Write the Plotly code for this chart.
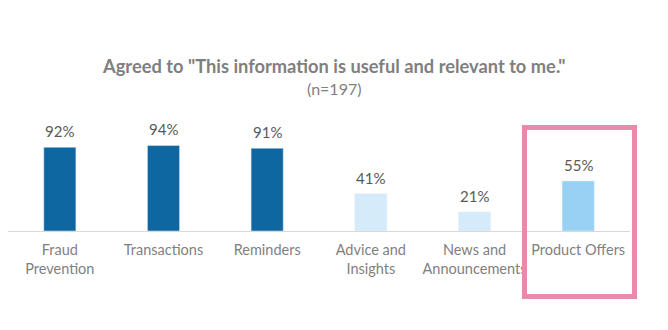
import plotly.graph_objects as go

categories = ["Fraud<br>Prevention", "Transactions", "Reminders", "Advice and<br>Insights",
              "News and<br>Announcements", "Product Offers"]
values = [0.92, 0.94, 0.91, 0.41, 0.21, 0.55]
labels = ["92%", "94%", "91%", "41%", "21%", "55%"]
colors = ["#0F67A2", "#0F67A2", "#0F67A2", "#D6EBFA", "#D6EBFA", "#97D2F5"]

W, H = 668, 330
L, R, T, B = 8, 38, 140, 99
pw, ph = W - L - R, H - T - B

fig = go.Figure(go.Bar(
    x=list(range(len(categories))), y=values, marker_color=colors,
))

for i, (v, t) in enumerate(zip(values, labels)):
    fig.add_annotation(x=i, y=v, text=t, showarrow=False, yanchor="bottom", yshift=5,
                       font=dict(size=15, color="#595959", family="Lato"))

def px_x(p):
    return (p - L) / pw
def px_y(p):
    return (H - B - p) / ph

fig.add_shape(type="rect", xref="paper", yref="paper",
              x0=px_x(524.5), x1=px_x(634.5), y0=px_y(296.5), y1=px_y(127.5),
              line=dict(color="#E68BAA", width=5), fillcolor="rgba(0,0,0,0)")

fig.add_annotation(xref="paper", yref="paper", x=px_x(334), y=px_y(66), yanchor="middle",
                   text="<b>Agreed to \"This information is useful and relevant to me.\"</b>",
                   showarrow=False, font=dict(size=18.3, color="#7F7F7F", family="Lato"))
fig.add_annotation(xref="paper", yref="paper", x=px_x(334), y=px_y(88), yanchor="middle",
                   text="(n=197)", showarrow=False,
                   font=dict(size=16, color="#7F7F7F", family="Lato"))

fig.update_layout(
    width=W, height=H, margin=dict(l=L, r=R, t=T, b=B),
    paper_bgcolor="white", plot_bgcolor="white", showlegend=False,
    bargap=0.69,
    font=dict(family="Lato", color="#595959"),
    xaxis=dict(tickmode="array", tickvals=list(range(len(categories))), ticktext=categories,
               range=[-0.5, 5.5], showline=True, linecolor="#D9D9D9", linewidth=1,
               showgrid=False, zeroline=False, ticks="", ticklabelstandoff=6,
               tickfont=dict(size=14.5, color="#7F7F7F")),
    yaxis=dict(range=[0, 1], visible=False, showgrid=False, zeroline=False),
)

fig.write_html("out.html")
